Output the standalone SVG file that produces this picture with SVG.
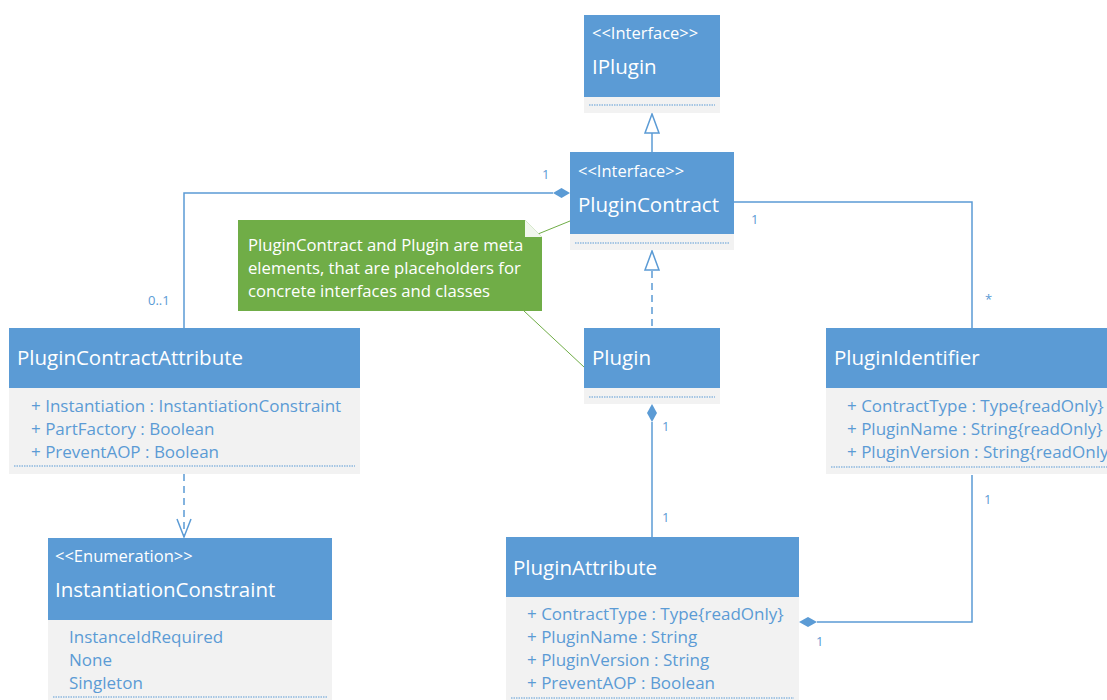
<svg xmlns="http://www.w3.org/2000/svg" width="1107" height="700" viewBox="0 0 1107 700">
  <defs>
    <style>
      .hdr { fill: #5B9BD5; }
      .body { fill: #F2F2F2; }
      .sep { stroke: #5B9BD5; stroke-width: 1; stroke-dasharray: 1.5 1; fill: none; }
      .title { font-family: "Open Sans", "Liberation Sans", sans-serif; font-size: 20.5px; fill: #FFFFFF; }
      .stereo { font-family: "Open Sans", "Liberation Sans", sans-serif; font-size: 16.5px; fill: #FFFFFF; }
      .attr { font-family: "Open Sans", "Liberation Sans", sans-serif; font-size: 17px; fill: #5B9BD5; }
      .mult { font-family: "Open Sans", "Liberation Sans", sans-serif; font-size: 13px; fill: #5B9BD5; }
      .note { font-family: "Open Sans", "Liberation Sans", sans-serif; font-size: 16.7px; fill: #FFFFFF; }
      .line { stroke: #5B9BD5; stroke-width: 1.5; fill: none; }
      .dash { stroke: #5B9BD5; stroke-width: 1.5; fill: none; stroke-dasharray: 7 5; }
      .noteLink { stroke: #70AD47; stroke-width: 1; fill: none; }
    </style>
  </defs>

  <!-- connectors -->
  <g id="connectors">
    <!-- PluginContract generalizes IPlugin -->
    <line class="line" x1="652" y1="133" x2="652" y2="152"/>
    <polygon points="652,114 645,133 659,133" fill="#FFFFFF" stroke="#5B9BD5" stroke-width="1.5"/>
    <!-- Plugin realizes PluginContract -->
    <line class="dash" x1="652" y1="271" x2="652" y2="328"/>
    <polygon points="652,251 645,270 659,270" fill="#FFFFFF" stroke="#5B9BD5" stroke-width="1.5"/>
    <!-- PluginContract to PluginContractAttribute -->
    <polyline class="line" points="184,328 184,193 553,193"/>
    <polygon points="570,193 561.5,188 553,193 561.5,198" fill="#5B9BD5"/>
    <text class="mult" x="542" y="179">1</text>
    <text class="mult" x="148" y="305">0..1</text>
    <!-- PluginContract to PluginIdentifier -->
    <polyline class="line" points="734,202 972,202 972,328"/>
    <text class="mult" x="751" y="224">1</text>
    <text class="mult" x="985" y="304">*</text>
    <!-- PluginContractAttribute uses InstantiationConstraint -->
    <line class="dash" x1="184" y1="474" x2="184" y2="537"/>
    <polyline class="line" points="177,519 184,537 191,519"/>
    <!-- Plugin to PluginAttribute -->
    <line class="line" x1="652" y1="422" x2="652" y2="537"/>
    <polygon points="652,404 647,413 652,422 657,413" fill="#5B9BD5"/>
    <text class="mult" x="662" y="431">1</text>
    <text class="mult" x="662" y="522">1</text>
    <!-- PluginIdentifier to PluginAttribute -->
    <polyline class="line" points="972,475 972,622 817,622"/>
    <polygon points="799,622 808,617 817,622 808,627" fill="#5B9BD5"/>
    <text class="mult" x="984" y="504">1</text>
    <text class="mult" x="816" y="646">1</text>
    <!-- note links -->
    <line class="noteLink" x1="538" y1="234" x2="570" y2="221"/>
    <line class="noteLink" x1="524" y1="311" x2="584" y2="367"/>
  </g>

  <!-- IPlugin -->
  <g id="IPlugin">
    <rect class="hdr" x="584" y="15" width="136" height="82"/>
    <rect class="body" x="584" y="97" width="136" height="16"/>
    <line class="sep" x1="589" y1="105" x2="715" y2="105"/>
    <text class="stereo" x="592" y="39">&lt;&lt;Interface&gt;&gt;</text>
    <text class="title" x="592" y="74">IPlugin</text>
  </g>

  <!-- PluginContract -->
  <g id="PluginContract">
    <rect class="hdr" x="570" y="152" width="164" height="82"/>
    <rect class="body" x="570" y="234" width="164" height="16"/>
    <line class="sep" x1="575" y1="243" x2="729" y2="243"/>
    <text class="stereo" x="578" y="177">&lt;&lt;Interface&gt;&gt;</text>
    <text class="title" x="578" y="212">PluginContract</text>
  </g>

  <!-- Note -->
  <g id="Note">
    <polygon points="238,220 525,220 542,237 542,311 238,311" fill="#70AD47"/>
    <polygon points="525,220 542,237 525,237" fill="#FFFFFF" opacity="0.9"/>
    <text class="note" x="248" y="251">PluginContract and Plugin are meta</text>
    <text class="note" x="248" y="274">elements, that are placeholders for</text>
    <text class="note" x="248" y="297">concrete interfaces and classes</text>
  </g>

  <!-- Plugin -->
  <g id="Plugin">
    <rect class="hdr" x="584" y="328" width="136" height="60"/>
    <rect class="body" x="584" y="388" width="136" height="16"/>
    <line class="sep" x1="589" y1="397" x2="715" y2="397"/>
    <text class="title" x="592" y="365">Plugin</text>
  </g>

  <!-- PluginContractAttribute -->
  <g id="PluginContractAttribute">
    <rect class="hdr" x="9" y="328" width="351" height="60"/>
    <rect class="body" x="9" y="388" width="351" height="86"/>
    <line class="sep" x1="14" y1="466" x2="355" y2="466"/>
    <text class="title" x="17" y="365">PluginContractAttribute</text>
    <text class="attr" x="31" y="412">+ Instantiation : InstantiationConstraint</text>
    <text class="attr" x="31" y="435">+ PartFactory : Boolean</text>
    <text class="attr" x="31" y="458">+ PreventAOP : Boolean</text>
  </g>

  <!-- PluginIdentifier -->
  <g id="PluginIdentifier">
    <rect class="hdr" x="826" y="328" width="290" height="60"/>
    <rect class="body" x="826" y="388" width="290" height="86"/>
    <line class="sep" x1="831" y1="467" x2="1111" y2="467"/>
    <text class="title" x="834" y="365">PluginIdentifier</text>
    <text class="attr" x="847" y="412">+ ContractType : Type{readOnly}</text>
    <text class="attr" x="847" y="435">+ PluginName : String{readOnly}</text>
    <text class="attr" x="847" y="458">+ PluginVersion : String{readOnly}</text>
  </g>

  <!-- InstantiationConstraint -->
  <g id="InstantiationConstraint">
    <rect class="hdr" x="48" y="538" width="284" height="82"/>
    <rect class="body" x="48" y="620" width="284" height="82"/>
    <line class="sep" x1="53" y1="697" x2="327" y2="697"/>
    <text class="stereo" x="55" y="562">&lt;&lt;Enumeration&gt;&gt;</text>
    <text class="title" x="55" y="597">InstantiationConstraint</text>
    <text class="attr" x="69" y="643">InstanceIdRequired</text>
    <text class="attr" x="69" y="666">None</text>
    <text class="attr" x="69" y="689">Singleton</text>
  </g>

  <!-- PluginAttribute -->
  <g id="PluginAttribute">
    <rect class="hdr" x="506" y="537" width="293" height="60"/>
    <rect class="body" x="506" y="597" width="293" height="105"/>
    <line class="sep" x1="511" y1="698" x2="794" y2="698"/>
    <text class="title" x="513" y="575">PluginAttribute</text>
    <text class="attr" x="527" y="620">+ ContractType : Type{readOnly}</text>
    <text class="attr" x="527" y="643">+ PluginName : String</text>
    <text class="attr" x="527" y="666">+ PluginVersion : String</text>
    <text class="attr" x="527" y="689">+ PreventAOP : Boolean</text>
  </g>
</svg>
